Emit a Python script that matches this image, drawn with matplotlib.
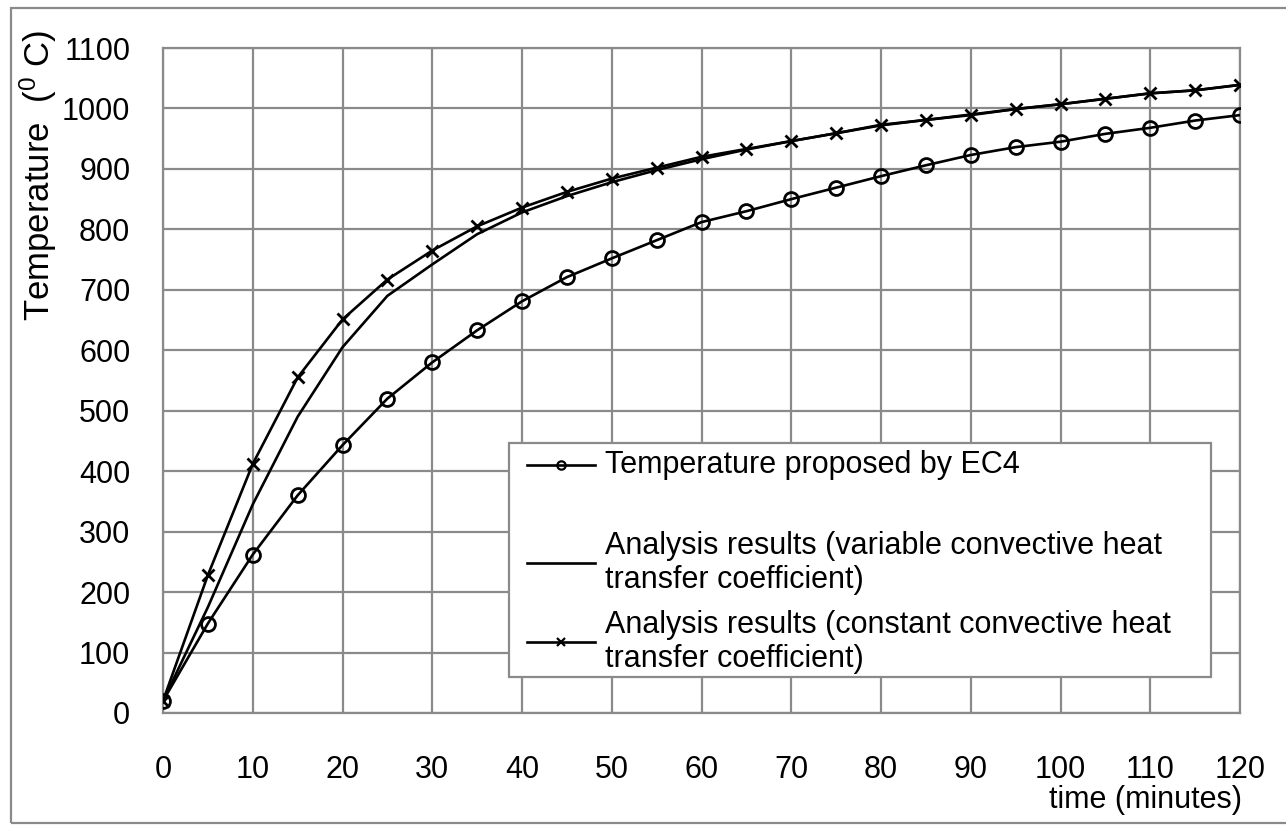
import matplotlib
matplotlib.use("Agg")
import matplotlib.pyplot as plt
from matplotlib.lines import Line2D
from matplotlib.patches import Rectangle

plt.rcParams['font.family'] = ['Liberation Sans', 'DejaVu Sans']
plt.rcParams['mathtext.fontset'] = 'custom'
plt.rcParams['mathtext.rm'] = 'Liberation Sans'
plt.rcParams['mathtext.it'] = 'Liberation Sans'

# ---- data ----
time_min = [0, 5, 10, 15, 20, 25, 30, 35, 40, 45, 50, 55, 60,
            65, 70, 75, 80, 85, 90, 95, 100, 105, 110, 115, 120]
ec4_temp = [20, 148, 262, 360, 443, 520, 580, 633, 681, 721, 752, 782, 812,
            830, 850, 869, 888, 906, 923, 936, 945, 958, 968, 980, 989]
variable_temp = [20, 175, 345, 490, 605, 690, 742, 792, 828, 855, 878, 898, 916,
                 932, 946, 959, 972, 981, 990, 999, 1007, 1016, 1025, 1030, 1039]
constant_temp = [20, 228, 412, 555, 651, 717, 765, 805, 836, 862, 884, 902, 920,
                 933, 946, 959, 973, 981, 989, 999, 1007, 1016, 1025, 1030, 1039]

labels = ["Temperature proposed by EC4",
          "Analysis results (variable convective heat\ntransfer coefficient)",
          "Analysis results (constant convective heat\ntransfer coefficient)"]
x_ticks = list(range(0, 121, 10))
y_ticks = list(range(0, 1101, 100))

W, H = 1286, 825
fig = plt.figure(figsize=(W / 100, H / 100), dpi=100)
ax = fig.add_axes([163 / W, 1 - 713 / H, (1240 - 163) / W, (713 - 48) / H])

grid_c = '#8a8a8a'
lw = 1.9
ax.plot(time_min, variable_temp, color='black', lw=lw, zorder=3)
ax.plot(time_min, constant_temp, color='black', lw=lw, marker='x', ms=9,
        mew=2.0, zorder=4)
ax.plot(time_min, ec4_temp, color='black', lw=lw, marker='o', ms=10,
        mfc='none', mew=2.0, zorder=5)

ax.set_xlim(0, 120)
ax.set_ylim(0, 1100)
ax.set_xticks(x_ticks)
ax.set_yticks(y_ticks)
ax.grid(True, color=grid_c, lw=1.6)
ax.set_axisbelow(True)
for s in ax.spines.values():
    s.set_color(grid_c)
    s.set_linewidth(1.6)
ax.tick_params(length=0, labelsize=22, colors='black')
ax.tick_params(axis='y', pad=23.5)
ax.tick_params(axis='x', pad=30)

fig.text(1242 / W, 1 - 800 / H, "time (minutes)", ha='right', va='center',
         fontsize=22)
fig.text(38 / W, 1 - 30 / H, r"Temperature  ($^{0}$ C)", rotation=90,
         ha='center', va='top', fontsize=25)

# ---- legend (manual box) ----
def ax_xy(px, py):
    return ((px - 163) / (1240 - 163), (713 - py) / (713 - 48))

x0, y0 = ax_xy(509, 677)
x1, y1 = ax_xy(1211, 443)
ax.add_patch(Rectangle((x0, y0), x1 - x0, y1 - y0, transform=ax.transAxes,
                       facecolor='white', edgecolor=grid_c, lw=1.6, zorder=10))
handles = [dict(marker='o', mfc='none'), dict(marker=None), dict(marker='x')]
rows_y = [465, 563, 642]
for lab, hd, ry in zip(labels, handles, rows_y):
    hx0, hy = ax_xy(527, ry)
    hx1, _ = ax_xy(595, ry)
    line = Line2D([hx0, hx1], [hy, hy], color='black', lw=1.9,
                  transform=ax.transAxes, zorder=11)
    ax.add_line(line)
    if hd['marker'] is not None:
        ax.add_line(Line2D([(hx0 + hx1) / 2], [hy], color='black',
                           marker=hd['marker'], ms=6, mfc='none', mew=1.6,
                           transform=ax.transAxes, zorder=12))
    tx, _ = ax_xy(605, ry)
    ax.text(tx, hy, lab, transform=ax.transAxes, ha='left', va='center',
            fontsize=22, linespacing=1.2, zorder=12)

# figure border
fig.add_artist(Rectangle((11 / W, 1 - 823 / H), (1290 - 11) / W, (823 - 8) / H,
                         transform=fig.transFigure, fill=False,
                         edgecolor=grid_c, lw=1.6))

fig.savefig("out.png", dpi=100)
